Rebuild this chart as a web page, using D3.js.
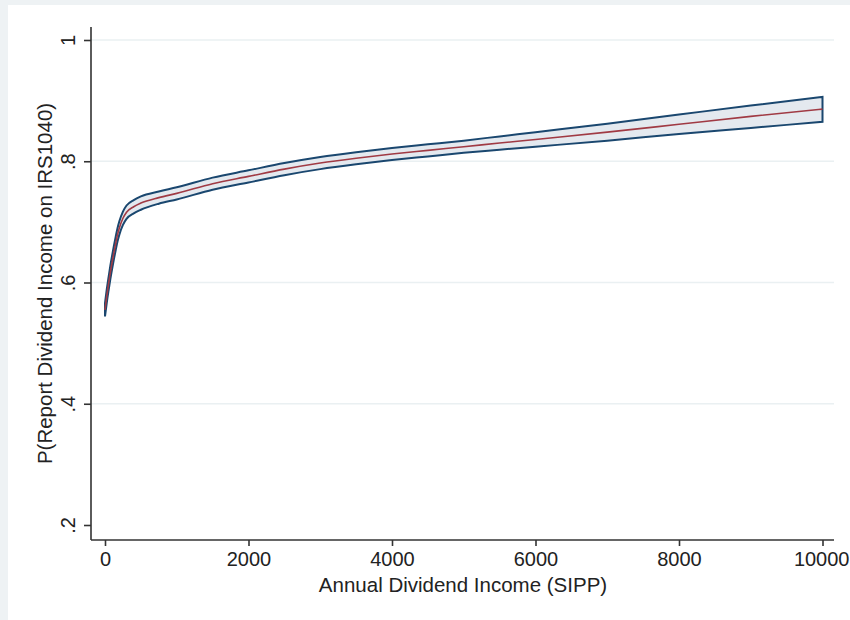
<!DOCTYPE html>
<style>
body { margin: 0; background: #fff; }
</style>
<svg width="850" height="620" font-family="'Liberation Sans', Arial, sans-serif"></svg>
<script src="https://d3js.org/d3.v7.min.js"></script>
<script>

// values
const dividend = [0, 25, 50, 75, 100, 125, 150, 175, 200, 250, 300, 400, 500, 750, 1000, 1500, 2000, 2500, 3000, 3500, 4000, 4500, 5000, 5500, 6000, 7000, 8000, 9000, 10000];
const prob = [0.555, 0.578, 0.598, 0.617, 0.634, 0.650, 0.665, 0.679, 0.690, 0.706, 0.716, 0.725, 0.731, 0.740, 0.747, 0.763, 0.775, 0.787, 0.797, 0.805, 0.812, 0.818, 0.824, 0.830, 0.836, 0.848, 0.861, 0.874, 0.886];
const lower = [0.544, 0.567, 0.587, 0.606, 0.623, 0.639, 0.654, 0.668, 0.679, 0.695, 0.705, 0.714, 0.720, 0.730, 0.737, 0.753, 0.765, 0.777, 0.787, 0.795, 0.802, 0.808, 0.814, 0.819, 0.824, 0.834, 0.845, 0.855, 0.865];
const upper = [0.566, 0.589, 0.609, 0.628, 0.645, 0.661, 0.676, 0.690, 0.701, 0.717, 0.727, 0.736, 0.742, 0.750, 0.757, 0.773, 0.785, 0.797, 0.807, 0.815, 0.822, 0.828, 0.834, 0.841, 0.848, 0.862, 0.877, 0.892, 0.906];

const xTicks = [0, 2000, 4000, 6000, 8000, 10000];
const yTicks = [0.2, 0.4, 0.6, 0.8, 1];
const yTickLabels = ['.2', '.4', '.6', '.8', '1'];
const yGrid = [0.4, 0.6, 0.8, 1];

const svg = d3.select('svg');

// light outer frame, only visible top and left
svg.append('rect').attr('width', 850).attr('height', 620).attr('fill', '#eef2f4');
svg.append('rect').attr('x', 8).attr('y', 5).attr('width', 842).attr('height', 615).attr('fill', '#fff');

const x = d3.scaleLinear().domain([0, 10000]).range([105, 822.5]);
const y = d3.scaleLinear().domain([0.2, 1]).range([525, 40]);

const axisLeft = 91, axisBottom = 540, axisRight = 834, axisTop = 27;

// gridlines
svg.append('g')
	.selectAll('line')
	.data(yGrid)
	.join('line')
	.attr('x1', axisLeft)
	.attr('x2', axisRight)
	.attr('y1', (d) => y(d))
	.attr('y2', (d) => y(d))
	.attr('stroke', '#eaf0f2')
	.attr('stroke-width', 1.3);

// band
const rows = dividend.map((d, i) => ({x: d, m: prob[i], lo: lower[i], hi: upper[i]}));

svg.append('path')
	.datum(rows)
	.attr('d', d3.area().x((d) => x(d.x)).y0((d) => y(d.lo)).y1((d) => y(d.hi)).curve(d3.curveMonotoneX))
	.attr('fill', '#e4e9ef')
	.attr('stroke', '#1a476f')
	.attr('stroke-width', 2);

svg.append('path')
	.datum(rows)
	.attr('d', d3.line().x((d) => x(d.x)).y((d) => y(d.m)).curve(d3.curveMonotoneX))
	.attr('fill', 'none')
	.attr('stroke', '#a03a44')
	.attr('stroke-width', 1.6);

// axes
const yAxis = svg.append('g')
	.attr('transform', `translate(${axisLeft},0)`)
	.call(d3.axisLeft(y).tickValues(yTicks).tickSize(7).tickFormat((d, i) => yTickLabels[i]));
yAxis.select('.domain').attr('d', `M0,${axisTop}V${axisBottom}`);

const xAxis = svg.append('g')
	.attr('transform', `translate(0,${axisBottom})`)
	.call(d3.axisBottom(x).tickValues(xTicks).tickSize(6).tickFormat(d3.format('d')));
xAxis.select('.domain').attr('d', `M${axisLeft},0H${axisRight}`);

svg.selectAll('.domain, .tick line').attr('stroke', '#333').attr('stroke-width', 1.6);
svg.selectAll('.tick text').attr('fill', '#222').attr('font-size', 20).attr('font-family', null);

yAxis.selectAll('.tick text')
	.attr('x', null).attr('dy', null)
	.attr('text-anchor', 'middle')
	.attr('transform', 'translate(-16,0) rotate(-90)');

xAxis.selectAll('.tick text')
	.attr('y', 26).attr('dy', null);
// the last label sits against the right edge, as in the reference
xAxis.selectAll('.tick:last-of-type text')
	.attr('text-anchor', 'end')
	.attr('x', 26.5);

// titles
svg.append('text')
	.attr('x', 463)
	.attr('y', 592)
	.attr('text-anchor', 'middle')
	.attr('font-size', 20.5)
	.attr('fill', '#222')
	.text('Annual Dividend Income (SIPP)');

svg.append('text')
	.attr('transform', `translate(52,${(axisTop + axisBottom) / 2}) rotate(-90)`)
	.attr('text-anchor', 'middle')
	.attr('font-size', 20.5)
	.attr('fill', '#222')
	.text('P(Report Dividend Income on IRS1040)');

</script>
